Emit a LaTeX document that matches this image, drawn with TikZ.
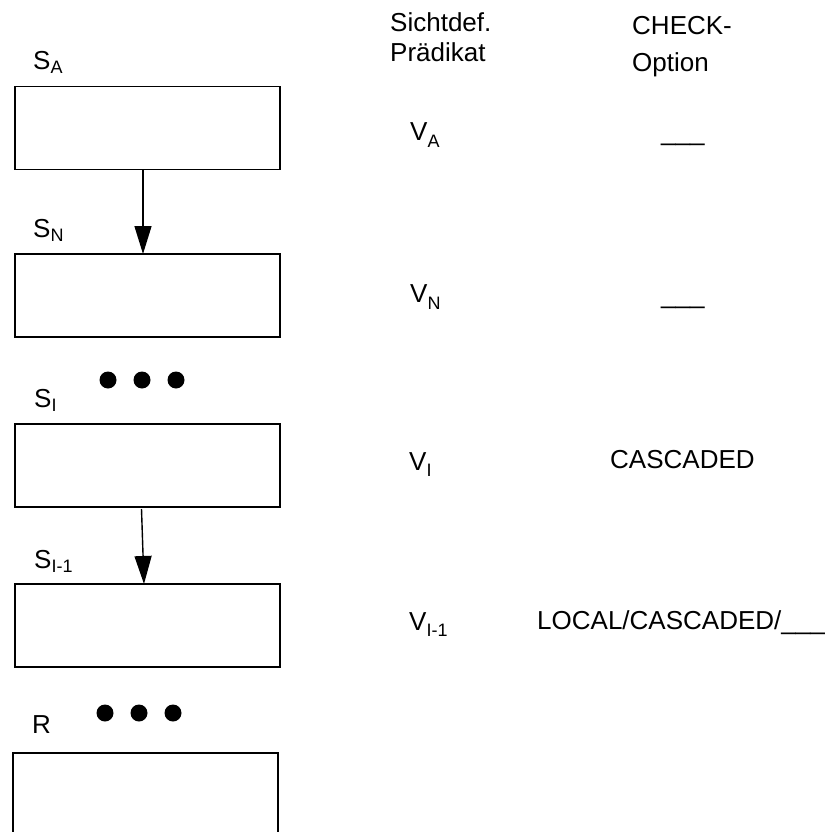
\documentclass[tikz,border=0pt]{standalone}
\usepackage{fontspec}
\setmainfont{Liberation Sans}
\usetikzlibrary{arrows.meta}
\newcommand\lowsub[2][5pt]{\raisebox{-#1}{\fontsize{18}{18}\selectfont #2}}
\begin{document}
\begin{tikzpicture}[x=1pt,y=-1pt,
  box/.style={draw=black, line width=1.4pt, minimum width=265pt, minimum height=83pt, inner sep=0pt, outer sep=0pt},
  lbl/.style={anchor=base west, inner sep=0pt, font=\fontsize{26}{30}\selectfont},
  dot/.style={circle, fill=black, minimum size=17pt, inner sep=0pt},
  link/.style={line width=1.4pt, -{Triangle[length=28pt,width=17pt]}}]
\useasboundingbox (0,0) rectangle (831,832);
\clip (0,0) rectangle (831,832);
% boxes
\node[box] (b1) at (147.5,128) {};
\node[box] (b2) at (147.5,295.5) {};
\node[box] (b3) at (147.5,465.5) {};
\node[box] (b4) at (147.5,625.5) {};
\node[box, minimum height=94pt] (b5) at (145.5,800) {};
% arrows
\draw[link] ([xshift=-4.5pt]b1.south) -- ([xshift=-4.5pt]b2.north);
\draw[link] ([xshift=-6pt,yshift=-2pt]b3.south) -- ([xshift=-3.5pt]b4.north);
% dots
\node[dot] (d1) at (108,380) {};
\node[dot] (d2) at (142,380) {};
\node[dot] (d3) at (176,380) {};
\node[dot] (d4) at (105,713) {};
\node[dot] (d5) at (139,713) {};
\node[dot] (d6) at (173,713) {};
% left labels
\node[lbl] (sa) at (33,70) {S\lowsub[4pt]{A}};
\node[lbl] (sn) at (33,237) {S\lowsub[4pt]{N}};
\node[lbl] (si) at (34,407) {S\lowsub[4pt]{I}};
\node[lbl] (si1) at (34,568) {S\lowsub[4pt]{I-1}};
\node[lbl] (r) at (32,733) {R};
% right header
\node[lbl, align=left] (sicht) at (390,62) {Sichtdef.\\Prädikat};
\node[lbl, align=left, font=\fontsize{26}{37}\selectfont] (check) at (632,72) {CHECK-\\Option};
% rows
\node[lbl] (va) at (410,140) {V\lowsub[7pt]{A}};
\node[lbl] (ca) at (661,140) {\_\_\_};
\node[lbl] (vn) at (410,302) {V\lowsub[7pt]{N}};
\node[lbl] (cn) at (661,303) {\_\_\_};
\node[lbl] (vi) at (409,470) {V\lowsub[6pt]{I}};
\node[lbl] (ci) at (610,468) {CASCADED};
\node[lbl] (vi1) at (409,630) {V\lowsub[6pt]{I-1}};
\node[lbl] (ci1) at (537,629) {LOCAL/CASCADED/\_\_\_};
\end{tikzpicture}
\end{document}
